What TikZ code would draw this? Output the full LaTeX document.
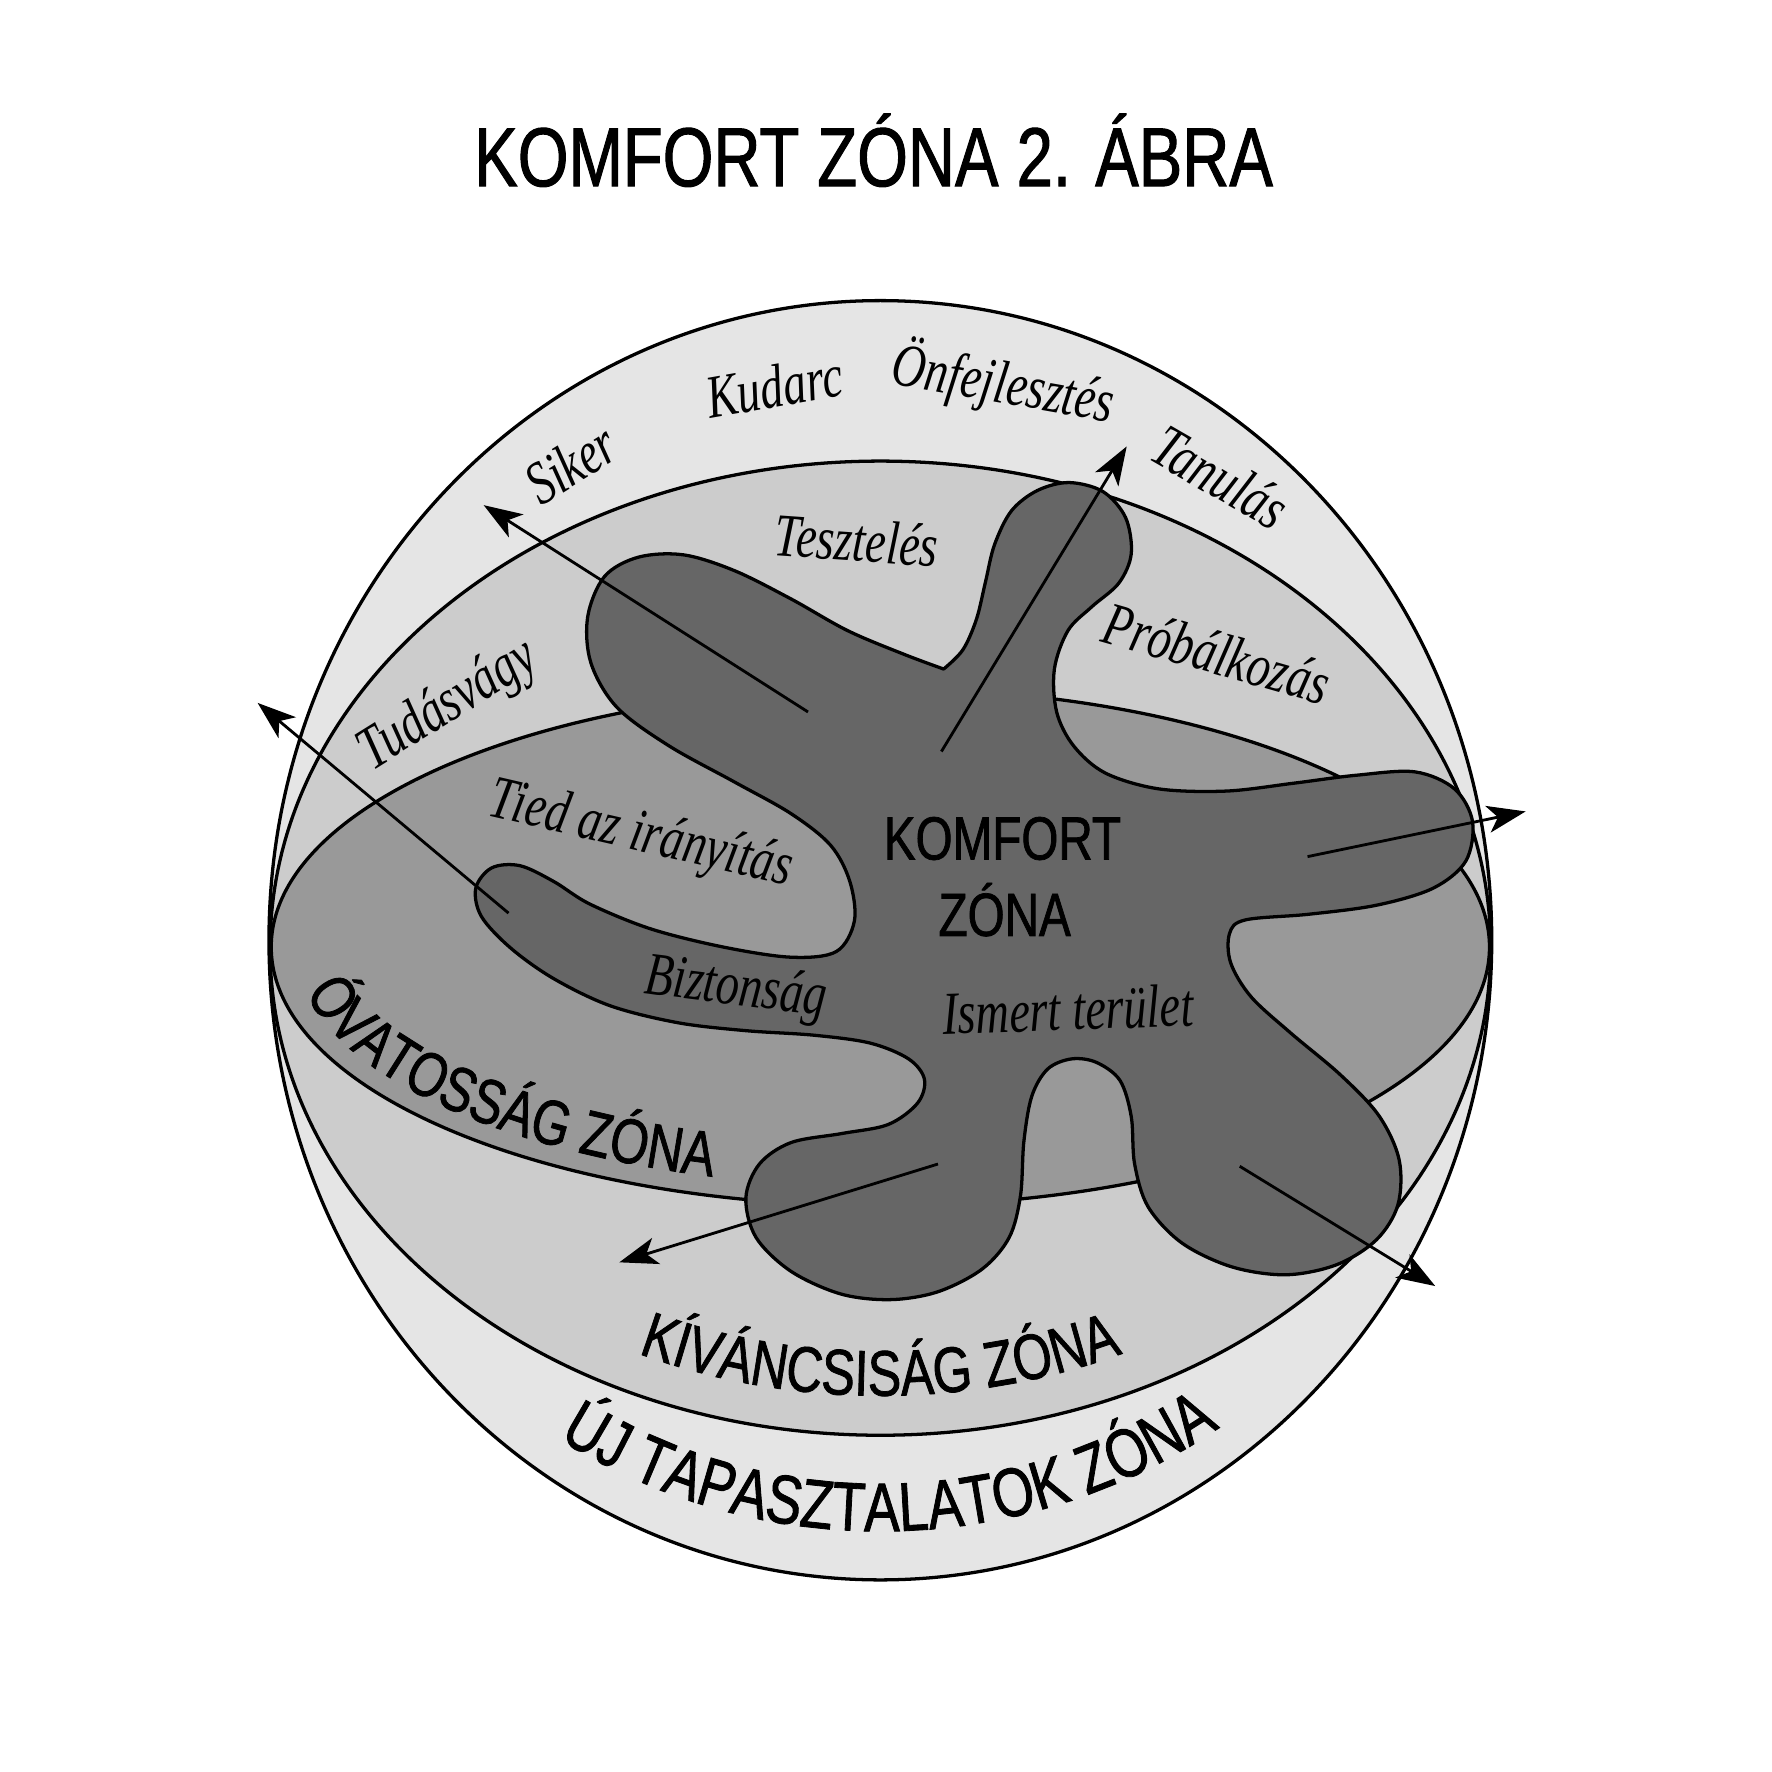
\documentclass[tikz,border=0pt]{standalone}
\usepackage{fontspec}
\usetikzlibrary{arrows.meta,decorations.text,calc}
\newfontfamily\myhand[FakeStretch=0.78,FakeBold=1.2]{Liberation Sans}
\newfontfamily\myscript[FakeStretch=0.76]{Liberation Serif}
\definecolor{bandA}{HTML}{E5E5E5}
\definecolor{bandB}{HTML}{CCCCCC}
\definecolor{bandC}{HTML}{999999}
\definecolor{blobc}{HTML}{666666}
\begin{document}
\begin{tikzpicture}[x=1pt,y=-1pt,
  zone/.style={line width=2.9pt, draw=black, line join=round},
  arr/.style={line width=2.5pt, -{Stealth[length=34pt,width=24pt,inset=9pt]}},
  scr/.style={font=\myscript\itshape\fontsize{54}{60}\selectfont, inner sep=0pt},
  hand/.style={font=\myhand\fontsize{54}{60}\selectfont, inner sep=0pt}]
\useasboundingbox[fill=white] (0,0) rectangle (1568,1568);

% zones
\coordinate (CO) at (779,832);
\coordinate (CK) at (779,839);
\coordinate (CV) at (779,838);
\filldraw[zone, fill=bandA] (CO) ellipse [x radius=541, y radius=566];
\filldraw[zone, fill=bandB] (CK) ellipse [x radius=540, y radius=431];
\filldraw[zone, fill=bandC] (CV) ellipse [x radius=539, y radius=229];

% comfort blob
\filldraw[zone, fill=blobc] plot[smooth, tension=0.55] coordinates {
(835,592) (852,575) (864,548) (872,515) (880,482) (895,452) (918,434) (946,427)
(976,435) (996,458) (1001,490) (990,516) (966,537) (945,558) (933,592) (935,630)
(950,660) (978,684) (1025,698) (1085,700) (1145,693) (1200,686) (1252,683)
(1287,698) (1303,727) (1297,762) (1268,786) (1218,801) (1158,809) (1102,814)
(1088,826) (1089,852) (1107,882) (1142,914) (1186,951) (1220,987) (1238,1026)
(1237,1066) (1218,1097) (1183,1119) (1138,1128) (1090,1121) (1046,1100)
(1016,1068) (1004,1030) (1001,988) (991,956) (970,940) (948,937) (927,946)
(913,970) (906,1010) (903,1058) (893,1095) (869,1123) (830,1143) (788,1150)
(744,1145) (700,1125) (669,1095) (660,1060) (672,1030) (700,1011) (745,1003)
(786,995) (812,976) (818,955) (804,937) (770,923) (720,916) (660,912) (600,905)
(540,890) (490,866) (452,839) (426,811) (421,786) (435,768) (460,766) (490,780)
(522,800) (576,822) (640,838) (700,847) (740,842) (756,815) (752,780) (735,748)
(700,720) (650,692) (592,660) (546,626) (523,587) (520,546) (535,510) (565,493)
(605,491) (650,505) (700,530) (750,558) (800,579) (835,592)} -- cycle;

% arrows
\coordinate (a1) at (715,630);  \coordinate (a2) at (428,447);
\coordinate (b1) at (833,665);  \coordinate (b2) at (997,395);
\coordinate (c1) at (450,808);  \coordinate (c2) at (228,622);
\coordinate (d1) at (1157,758); \coordinate (d2) at (1350,718);
\coordinate (e1) at (830,1030); \coordinate (e2) at (548,1117);
\coordinate (f1) at (1097,1032);\coordinate (f2) at (1270,1138);
\draw[arr] (a1) -- (a2);
\draw[arr] (b1) -- (b2);
\draw[arr] (c1) -- (c2);
\draw[arr] (d1) -- (d2);
\draw[arr] (e1) -- (e2);
\draw[arr] (f1) -- (f2);

% title
\node[hand, font=\myhand\fontsize{74}{80}\selectfont] (title) at (773,133) {KOMFORT ZÓNA 2. ÁBRA};

% script words
\node[scr, rotate=10]  (kudarc) at (685,342) {Kudarc};
\node[scr, rotate=-10] (onf)    at (888,340) {Önfejlesztés};
\node[scr, rotate=32]  (siker)  at (505,410) {Siker};
\node[scr, rotate=-30] (tanul)  at (1080,422) {Tanulás};
\node[scr, rotate=-4]  (teszt)  at (758,478) {Tesztelés};
\node[scr, rotate=-16] (probal) at (1077,578) {Próbálkozás};
\node[scr, rotate=32]  (tudas)  at (397,625) {Tudásvágy};
\node[scr, rotate=-13] (tied)   at (567,740) {Tied az irányítás};
\node[scr, rotate=-7]  (bizt)   at (651,876) {Biztonság};
\node[scr, rotate=2]   (ismert) at (945,893) {Ismert terület};

% comfort label
\node[hand] (komf) at (887,742) {KOMFORT};
\node[hand] (komz) at (889,805) {ZÓNA};

% curved zone labels
\path[decorate, decoration={text along path, text align=left,
  text={|\myhand\fontsize{56}{60}\selectfont|ÓVATOSSÁG ZÓNA}}]
  ($(CV)+(169:518 and 212)$) arc[start angle=169, end angle=85, x radius=518, y radius=212];
\path[decorate, decoration={text along path, text align=center,
  text={|\myhand\fontsize{57}{60}\selectfont|KÍVÁNCSISÁG ZÓNA}}]
  ($(CK)+(118:505 and 396)$) arc[start angle=118, end angle=62, x radius=505, y radius=396];
\path[decorate, decoration={text along path, text align=center,
  text={|\myhand\fontsize{61}{66}\selectfont|ÚJ TAPASZTALATOK ZÓNA}}]
  ($(CO)+(128:530 and 523)$) arc[start angle=128, end angle=50, x radius=530, y radius=523];
\end{tikzpicture}
\end{document}
